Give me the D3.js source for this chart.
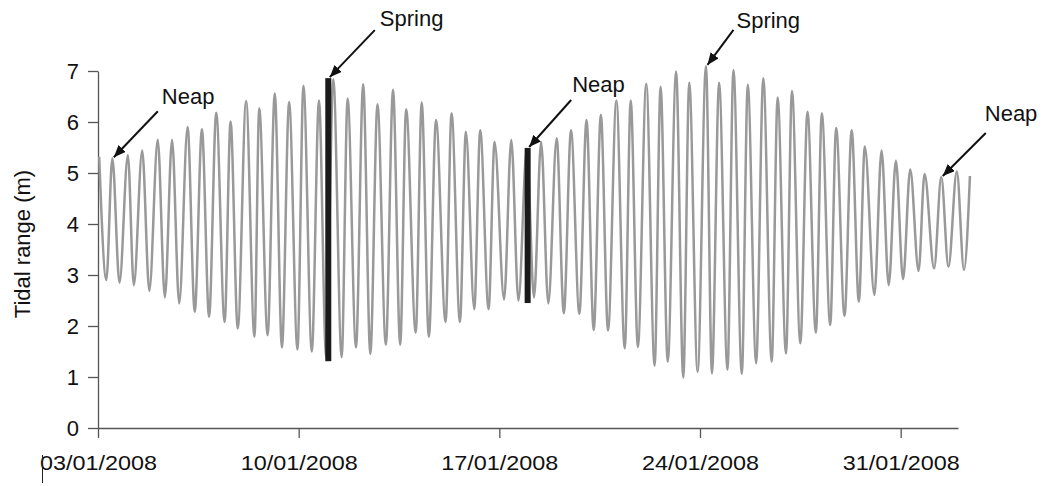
<!DOCTYPE html>
<html>
<head>
<meta charset="utf-8">
<script src="https://cdn.jsdelivr.net/npm/d3@7"></script>
<style>
  html, body { margin: 0; padding: 0; background: #fff; }
  svg { display: block; font-family: "Liberation Sans", Arial, Helvetica, sans-serif; }
</style>
</head>
<body>
<svg id="chart" width="1049" height="486"></svg>
<script>
// Successive high and low water levels, hours after 03/01/2008 00:00
const extremeHours = [
  1, 7, 12, 18, 25, 30, 37, 43, 50, 56, 62, 68, 75, 81, 87, 93, 99, 106, 111, 117,
  124, 131, 135, 142, 148, 154, 160, 167, 172, 179, 185, 191, 197, 204, 209, 216, 222, 228, 234, 241,
  247, 253, 258, 266, 271, 277, 283, 291, 296, 303, 308, 315, 320, 327, 332, 340, 346, 352, 359, 365,
  371, 377, 384, 390, 396, 403, 409, 415, 421, 427, 434, 441, 446, 452, 459, 466, 471, 477, 484, 490,
  495, 502, 509, 514, 520, 527, 532, 539, 544, 551, 557, 564, 569, 576, 581, 588, 594, 601, 606, 613,
  618, 625, 631, 637, 642, 650, 656, 662, 668, 674, 680, 687, 692, 700, 706, 712, 719, 725, 730
];
const extremeLevels = [
  5.32, 2.90, 5.29, 2.85, 5.35, 2.80, 5.44, 2.69, 5.65, 2.56, 5.65, 2.44, 5.90, 2.28, 5.86, 2.18, 6.18, 2.08, 6.01, 1.95,
  6.41, 1.79, 6.27, 1.82, 6.56, 1.58, 6.39, 1.54, 6.71, 1.50, 6.42, 1.40, 6.84, 1.39, 6.46, 1.58, 6.74, 1.45, 6.35, 1.63,
  6.63, 1.63, 6.25, 1.87, 6.38, 1.79, 6.04, 2.08, 6.17, 2.08, 5.81, 2.33, 5.84, 2.33, 5.61, 2.52, 5.65, 2.50, 5.48, 2.56,
  5.61, 2.44, 5.68, 2.25, 5.84, 2.24, 6.04, 1.92, 6.14, 1.91, 6.42, 1.56, 6.42, 1.59, 6.75, 1.22, 6.69, 1.30, 6.99, 0.99,
  6.77, 1.10, 7.10, 1.07, 6.77, 1.14, 7.02, 1.06, 6.73, 1.27, 6.86, 1.30, 6.48, 1.46, 6.61, 1.66, 6.20, 1.87, 6.17, 2.02,
  5.88, 2.20, 5.84, 2.48, 5.52, 2.61, 5.44, 2.80, 5.24, 2.92, 5.07, 3.08, 4.98, 3.13, 4.92, 3.16, 5.03, 3.10, 4.94
];

// Date ticks and level ticks
const dateTicks = ["2008-01-03", "2008-01-10", "2008-01-17", "2008-01-24", "2008-01-31"];
const levelTicks = [0, 1, 2, 3, 4, 5, 6, 7];

// Single-cycle ranges marked with bars: [hour, low, high]
const rangeBars = [
  [192.8, 1.31, 6.86],
  [359.7, 2.45, 5.49]
];

// Labels and the tide each arrow points at
const noteLabels = ["Neap", "Spring", "Neap", "Spring", "Neap"];
const noteHours  = [12, 192.8, 359.7, 509, 706];
const noteLevels = [5.29, 6.86, 5.49, 7.10, 4.92];

const parseDay = d3.timeParse("%Y-%m-%d");
const start = parseDay("2008-01-03");
const atHour = h => new Date(start.getTime() + h * 3600 * 1000);

const svg = d3.select("#chart");
const frame = { left: 98, top: 71, right: 958, bottom: 428 };

const x = d3.scaleTime()
  .domain([start, parseDay("2008-02-02")])
  .range([frame.left, frame.right]);
const y = d3.scaleLinear()
  .domain([0, 7])
  .range([frame.bottom, frame.top]);

const axisColor = "#555";

// y axis
const yAxis = svg.append("g")
  .attr("transform", `translate(${frame.left},0)`)
  .call(d3.axisLeft(y).tickValues(levelTicks).tickFormat(d3.format("d"))
    .tickSize(10).tickSizeOuter(0).tickPadding(9));
// x axis
const xAxis = svg.append("g")
  .attr("transform", `translate(0,${frame.bottom})`)
  .call(d3.axisBottom(x).tickValues(dateTicks.map(parseDay))
    .tickFormat(d3.timeFormat("%d/%m/%Y")).tickSize(10).tickSizeOuter(0).tickPadding(17));

[yAxis, xAxis].forEach(g => {
  g.select(".domain").attr("stroke", axisColor).attr("stroke-width", 1.3);
  g.selectAll(".tick line").attr("stroke", axisColor).attr("stroke-width", 1.3);
  g.selectAll(".tick text").attr("fill", "#111").attr("font-size", 22);
});
xAxis.selectAll(".tick text").attr("font-size", 21).attr("textLength", 117).attr("lengthAdjust", "spacingAndGlyphs");

// small mark left of the first date label
svg.append("line")
  .attr("x1", 42.5).attr("x2", 42.5)
  .attr("y1", frame.bottom + 27).attr("y2", frame.bottom + 55)
  .attr("stroke", "#222").attr("stroke-width", 1);

// y axis title
svg.append("text")
  .attr("transform", `translate(30,244) rotate(-90)`)
  .attr("text-anchor", "middle")
  .attr("font-size", 22)
  .attr("fill", "#111")
  .text("Tidal range (m)");

// tide curve
const tide = extremeHours.map((h, i) => ({ t: atHour(h), v: extremeLevels[i] }));
svg.append("path")
  .datum(tide)
  .attr("fill", "none")
  .attr("stroke", "#999")
  .attr("stroke-width", 2.5)
  .attr("stroke-linejoin", "round")
  .attr("d", d3.line().x(d => x(d.t)).y(d => y(d.v)).curve(d3.curveMonotoneX));

// cycle range bars
svg.selectAll("rect.bar")
  .data(rangeBars)
  .join("rect")
  .attr("class", "bar")
  .attr("x", d => x(atHour(d[0])) - 3)
  .attr("width", 6)
  .attr("y", d => y(d[2]))
  .attr("height", d => y(d[1]) - y(d[2]))
  .attr("fill", "#1a1a1a");

// arrow head
svg.append("defs").append("marker")
  .attr("id", "head")
  .attr("viewBox", "0 0 12 10")
  .attr("refX", 12).attr("refY", 5)
  .attr("markerWidth", 12).attr("markerHeight", 10)
  .attr("markerUnits", "userSpaceOnUse")
  .attr("orient", "auto")
  .append("path").attr("d", "M0,0 L12,5 L0,10 Z").attr("fill", "#111");

// tail and text offsets from each arrow tip (px)
const tailOffsets = [[44, -46], [45, -47], [42, -47], [26, -35], [43, -43]];
const textOffsets = [[48, -53], [50, -51], [43, -55], [29, -37], [42, -55]];

noteLabels.forEach((label, i) => {
  const tx = x(atHour(noteHours[i])) + 1.5;
  const ty = y(noteLevels[i]) - 1;
  svg.append("line")
    .attr("x1", tx + tailOffsets[i][0]).attr("y1", ty + tailOffsets[i][1])
    .attr("x2", tx).attr("y2", ty)
    .attr("stroke", "#111").attr("stroke-width", 2)
    .attr("marker-end", "url(#head)");
  svg.append("text")
    .attr("x", tx + textOffsets[i][0]).attr("y", ty + textOffsets[i][1])
    .attr("font-size", 22)
    .attr("fill", "#111")
    .text(label);
});
</script>
</body>
</html>
